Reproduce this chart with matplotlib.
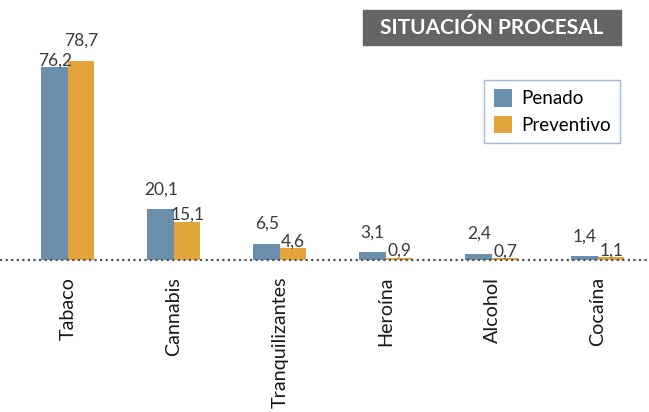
import matplotlib.pyplot as plt
import matplotlib.patches as patches
import numpy as np

plt.rcParams['font.family'] = ['Lato', 'DejaVu Sans']

categories = ['Tabaco', 'Cannabis', 'Tranquilizantes', 'Heroína', 'Alcohol', 'Cocaína']
penado = [76.2, 20.1, 6.5, 3.1, 2.4, 1.4]
preventivo = [78.7, 15.1, 4.6, 0.9, 0.7, 1.1]
series_names = ['Penado', 'Preventivo']
title = 'SITUACIÓN PROCESAL'

blue = '#6a8fad'
orange = '#e3a43c'
text_col = '#3a3a3a'


def fmt(v):
    return f'{v:.1f}'.replace('.', ',')


fig = plt.figure(figsize=(6.49, 4.12), dpi=100)
# axes: baseline sits 260 px from the top
ax = fig.add_axes([0, 152 / 412, 1, 260 / 412])

x = np.arange(len(categories))
w = 0.25
b1 = ax.bar(x - w / 2, penado, w, color=blue, label=series_names[0])
b2 = ax.bar(x + w / 2, preventivo, w, color=orange, label=series_names[1])

# value labels: the taller bar of each pair gets its label lifted higher
for i in range(len(categories)):
    for bars, vals, other in ((b1, penado, preventivo), (b2, preventivo, penado)):
        v = vals[i]
        off = 15 if v > other[i] else 2
        r = bars[i]
        ax.annotate(fmt(v), (r.get_x() + r.get_width() / 2, v),
                    xytext=(0, off * 0.72), textcoords='offset points',
                    ha='center', va='baseline', fontsize=12.5, color=text_col)

ax.set_xlim(-68 / 106, (649 - 68) / 106)
ax.set_ylim(0, 260 / 2.53)
ax.axhline(0, color='#555555', lw=1.6, ls=(0, (1, 1.5)), clip_on=False)

ax.set_xticks(x)
ax.set_xticklabels(categories, rotation=90, fontsize=14.2, color='#1a1a1a')
ax.tick_params(axis='x', length=0, pad=12)
ax.set_yticks([])
for s in ax.spines.values():
    s.set_visible(False)

leg = ax.legend(loc='upper right', bbox_to_anchor=(620 / 649, 1 - 80 / 412),
                bbox_transform=fig.transFigure, fontsize=13.5, fancybox=False,
                handlelength=0.95, handleheight=1.05, borderpad=0.5,
                labelspacing=0.45, handletextpad=0.5, borderaxespad=0)
leg.get_frame().set_edgecolor('#8eaacb')
leg.get_frame().set_linewidth(1.0)

# title box
fig.patches.append(patches.Rectangle((363 / 649, 1 - 45 / 412), 258 / 649, 35 / 412,
                                     transform=fig.transFigure, color='#646567', zorder=0))
fig.text(492 / 649, 1 - 28 / 412, title, ha='center', va='center',
         fontsize=15, fontweight='bold', color='white')

fig.savefig('out.png', dpi=100)
